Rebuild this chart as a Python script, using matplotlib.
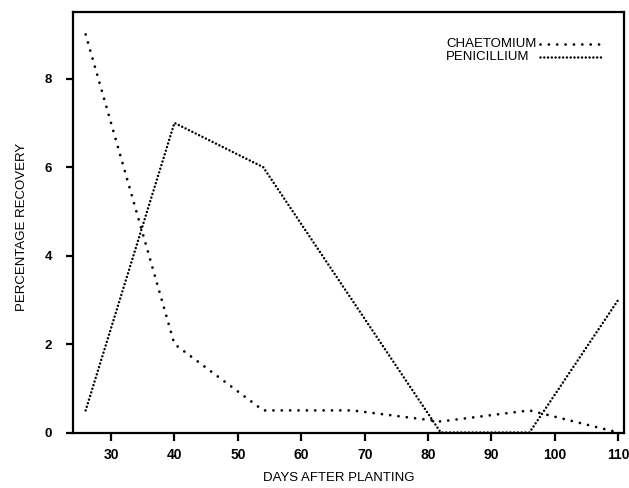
import matplotlib
matplotlib.use("Agg")
import matplotlib.pyplot as plt

plt.rcParams["font.family"] = ["Liberation Sans", "DejaVu Sans"]

# sampling days and recovery (%) per fungus
days = [26, 40, 54, 68, 82, 96, 110]
chaetomium = [9.0, 2.0, 0.5, 0.5, 0.25, 0.5, 0.0]
penicillium = [0.5, 7.0, 6.0, 3.0, 0.0, 0.0, 3.0]

x_ticks = [30, 40, 50, 60, 70, 80, 90, 100, 110]
y_ticks = [0, 2, 4, 6, 8]

sparse = dict(color="black", linewidth=2.0, linestyle=(0, (0.01, 3.0)),
              dash_capstyle="round")
dense = dict(color="black", linewidth=1.8, linestyle=(0, (0.01, 1.5)),
             dash_capstyle="round")

fig = plt.figure(figsize=(6.29, 4.88), dpi=100)
ax = fig.add_axes([0.116, 0.1137, 0.876, 0.861])

ax.plot(days, chaetomium, **sparse)
ax.plot(days, penicillium, **dense)

ax.set_xlim(24, 110.9)
ax.set_ylim(0, 9.5)
ax.set_xticks(x_ticks)
ax.set_yticks(y_ticks)

for s in ax.spines.values():
    s.set_linewidth(1.6)
ax.tick_params(axis="x", direction="out", length=6, width=1.6, pad=5,
               labelsize=10)
ax.tick_params(axis="y", direction="out", length=5, width=1.6, pad=10,
               labelsize=9.5)
for lab in ax.get_xticklabels() + ax.get_yticklabels():
    lab.set_fontweight("bold")

ax.set_xlabel("DAYS AFTER PLANTING", fontsize=9.5)
ax.set_ylabel("PERCENTAGE RECOVERY", fontsize=9.5)
ax.xaxis.set_label_coords(0.483, -0.093)
ax.yaxis.set_label_coords(-0.082, 0.489)

# key in the top right corner: name first, line sample after it
key = [("CHAETOMIUM", sparse, 0.924), ("PENICILLIUM", dense, 0.893)]
for name, style, yk in key:
    ax.text(0.677, yk, name, transform=ax.transAxes, fontsize=9.5,
            va="center", ha="left")
    ax.plot([0.848, 0.962], [yk, yk], transform=ax.transAxes, **style)

fig.savefig("out.png", dpi=100)
